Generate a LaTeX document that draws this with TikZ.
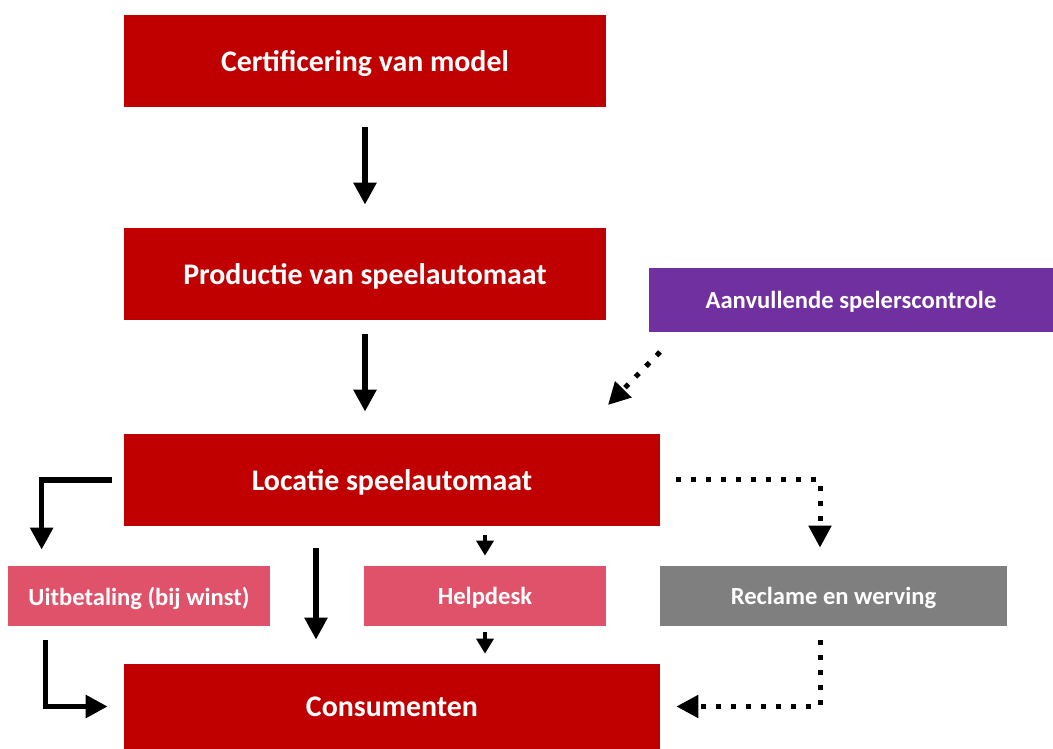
\documentclass[tikz,border=0pt]{standalone}
\usepackage{fontspec}
\setmainfont{Carlito}
\usetikzlibrary{arrows.meta}
\definecolor{darkred}{HTML}{C00000}
\definecolor{lightred}{HTML}{E0526A}
\definecolor{purple}{HTML}{7030A0}
\definecolor{midgray}{HTML}{7F7F7F}
\begin{document}
\begin{tikzpicture}
	[bigbox/.style = {fill = darkred, text = white, font = \bfseries\fontsize{17}{19}\selectfont, minimum height = 1.84cm, inner sep = 0pt, text depth = 0pt},
	smallbox/.style = {text = white, font = \bfseries\fontsize{14}{16}\selectfont, minimum height = 1.2cm, inner sep = 0pt, text depth = 0pt},
	flow/.style = {line width = 0.11cm, -{Triangle[length=0.44cm,width=0.44cm]}},
	minor/.style = {line width = 0.07cm, -{Triangle[length=0.3cm,width=0.34cm]}},
	dots/.style = {line width = 0.1cm, dash pattern = on 0.1cm off 0.2cm, -{Triangle[length=0.44cm,width=0.44cm]}}]
	\useasboundingbox (0,0) rectangle (21.06,14.98);
	\node [bigbox, minimum width = 9.64cm] (cert) at (7.30,13.76) {Certificering van model};
	\node [bigbox, minimum width = 9.64cm] (prod) at (7.30,9.50) {Productie van speelautomaat};
	\node [smallbox, fill = purple, minimum width = 8.08cm, minimum height = 1.28cm] (aanv) at (17.02,8.98) {Aanvullende spelerscontrole};
	\node [bigbox, minimum width = 10.72cm] (loc) at (7.84,5.38) {Locatie speelautomaat};
	\node [smallbox, fill = lightred, minimum width = 5.24cm] (uitb) at (2.78,3.06) {Uitbetaling (bij winst)};
	\node [smallbox, fill = lightred, minimum width = 4.84cm] (help) at (9.70,3.06) {Helpdesk};
	\node [smallbox, fill = midgray, minimum width = 6.94cm] (recl) at (16.67,3.06) {Reclame en werving};
	\node [bigbox, minimum width = 10.72cm, minimum height = 1.70cm] (cons) at (7.84,0.85) {Consumenten};
	\coordinate (aanvout) at (13.20,7.94);
	\coordinate (locin) at (12.16,6.88);
	% main chain
	\draw [flow, shorten < = 0.4cm, shorten > = 0.46cm] (cert.south) -- (prod.north);
	\draw [flow, shorten < = 0.28cm, shorten > = 0.44cm] (prod.south) -- (prod.south |- loc.north);
	\draw [dots] (aanvout) -- (locin);
	% below the location
	\draw [flow, shorten < = 0.24cm, shorten > = 0.32cm] (loc.west) -| ([xshift=0.68cm]uitb.north west);
	\draw [flow, shorten < = 0.44cm, shorten > = 0.48cm] ([xshift=-1.52cm]loc.south) -- ([xshift=-1.52cm]cons.north);
	\draw [minor, shorten < = 0.18cm, shorten > = 0.2cm] (loc.south -| help.north) -- (help.north);
	\draw [minor, shorten < = 0.12cm, shorten > = 0.2cm] (help.south) -- (help.south |- cons.north);
	\draw [dots, shorten < = 0.32cm, shorten > = 0.36cm] (loc.east) -| ([xshift=-0.27cm]recl.north);
	\draw [dots, shorten < = 0.28cm, shorten > = 0.32cm] ([xshift=-0.27cm]recl.south) |- (cons.east);
	\draw [flow, shorten < = 0.28cm, shorten > = 0.32cm] ([xshift=0.76cm]uitb.south west) |- (cons.west);
\end{tikzpicture}
\end{document}
